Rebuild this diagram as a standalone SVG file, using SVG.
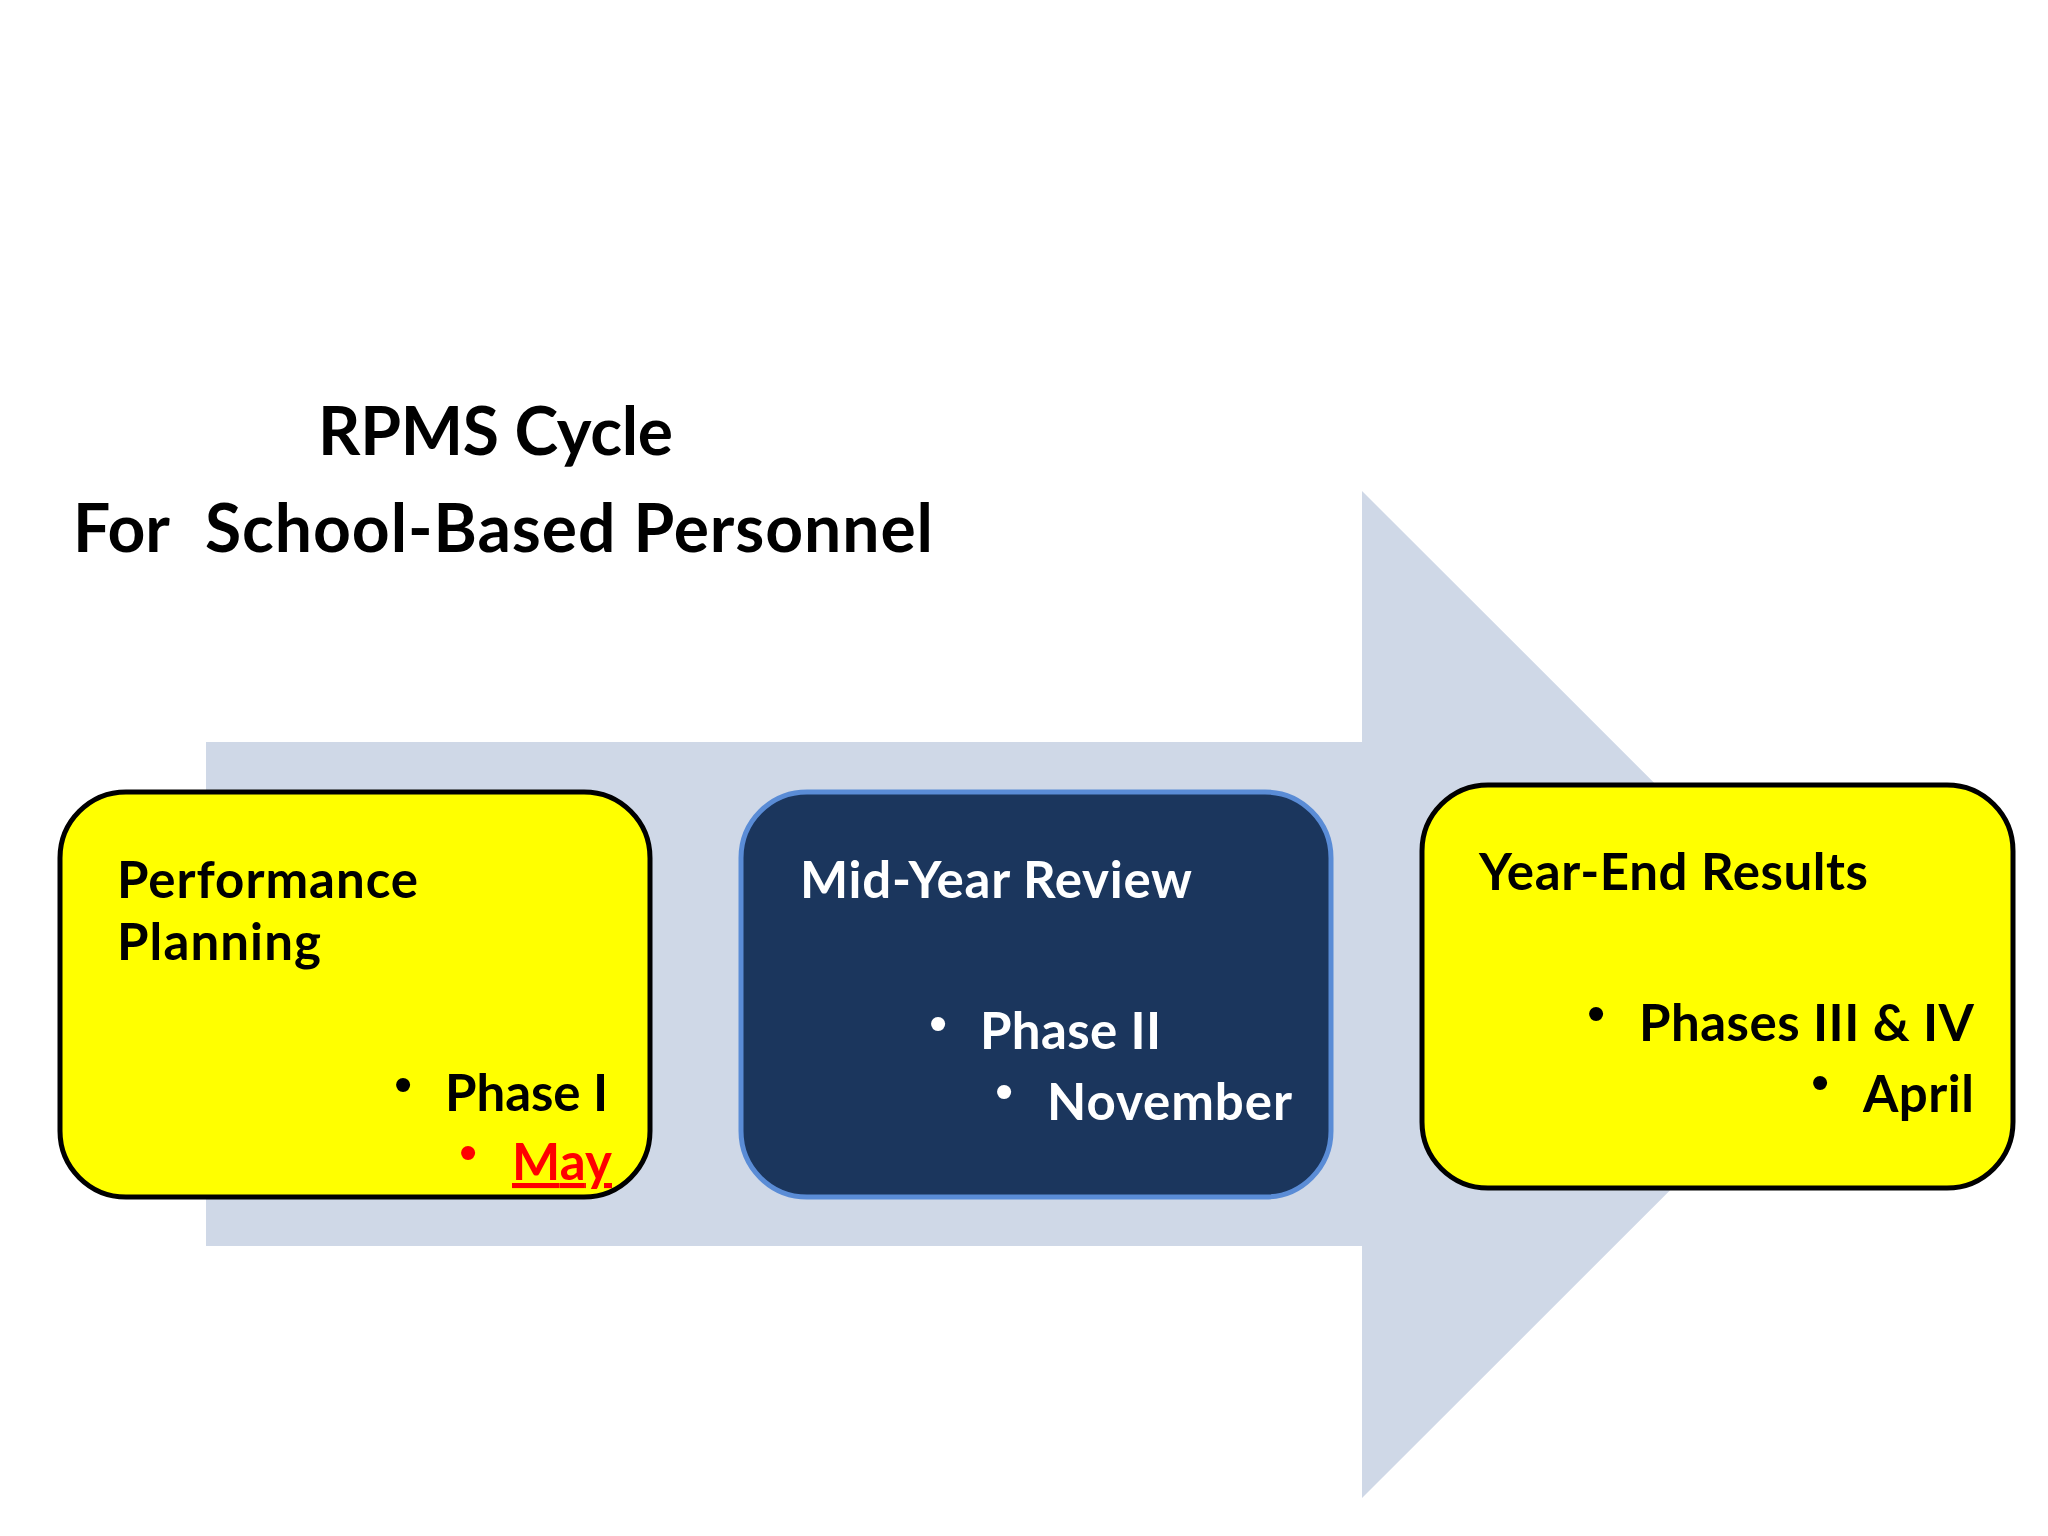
<svg xmlns="http://www.w3.org/2000/svg" width="2048" height="1536" viewBox="0 0 2048 1536">
<style>
.t{font-family:Lato,"Noto Sans","Liberation Sans",sans-serif;font-weight:bold;}
.title{font-size:66px;fill:#000;}
.lbl{font-size:51px;}
.blk{fill:#000;}
.wht{fill:#fff;}
.red{fill:#ff0000;}
.bul{font-family:"Liberation Sans",Arial,sans-serif;font-size:52px;text-anchor:middle;}
.ybox{fill:#ffff00;stroke:#000;stroke-width:5;}
.nbox{fill:#1b365d;stroke:#5a8cd6;stroke-width:5;}
</style>
<rect width="2048" height="1536" fill="#fff"/>
<g id="connectors">
<polygon points="206,742 1362,742 1362,491 1866,994.5 1362,1498 1362,1246 206,1246" fill="#cfd8e7"/>
</g>
<g id="title">
<text class="t title" x="318" y="455" textLength="355" lengthAdjust="spacing">RPMS Cycle</text>
<text class="t title" x="73" y="552">For</text>
<text class="t title" x="205" y="552" textLength="728" lengthAdjust="spacing">School-Based Personnel</text>
</g>
<g id="node-planning">
<rect class="ybox" x="60" y="792" width="590" height="405" rx="66" ry="66"/>
<text class="t lbl blk" x="117" y="898" textLength="301" lengthAdjust="spacing">Performance</text>
<text class="t lbl blk" x="117" y="960" textLength="204" lengthAdjust="spacing">Planning</text>
<text class="bul blk" x="403" y="1102">•</text>
<text class="t lbl blk" x="445" y="1111" textLength="163" lengthAdjust="spacing">Phase I</text>
<text class="bul red" x="468" y="1170">•</text>
<text class="t lbl red" x="512" y="1180" textLength="100" lengthAdjust="spacing" text-decoration="underline">May</text>
</g>
<g id="node-midyear">
<rect class="nbox" x="741" y="792" width="590" height="405" rx="66" ry="66"/>
<text class="t lbl wht" x="800" y="898" textLength="392" lengthAdjust="spacing">Mid-Year Review</text>
<text class="bul wht" x="938" y="1041">•</text>
<text class="t lbl wht" x="980" y="1049" textLength="181" lengthAdjust="spacing">Phase II</text>
<text class="bul wht" x="1004" y="1109">•</text>
<text class="t lbl wht" x="1047" y="1120" textLength="245" lengthAdjust="spacing">November</text>
</g>
<g id="node-yearend">
<rect class="ybox" x="1422" y="785" width="591" height="403" rx="66" ry="66"/>
<text class="t lbl blk" x="1479" y="890" textLength="389" lengthAdjust="spacing">Year-End Results</text>
<text class="bul blk" x="1596" y="1031">•</text>
<text class="t lbl blk" x="1639" y="1041" textLength="335" lengthAdjust="spacing">Phases III &amp; IV</text>
<text class="bul blk" x="1820" y="1100">•</text>
<text class="t lbl blk" x="1863" y="1112" textLength="111" lengthAdjust="spacing">April</text>
</g>
</svg>
